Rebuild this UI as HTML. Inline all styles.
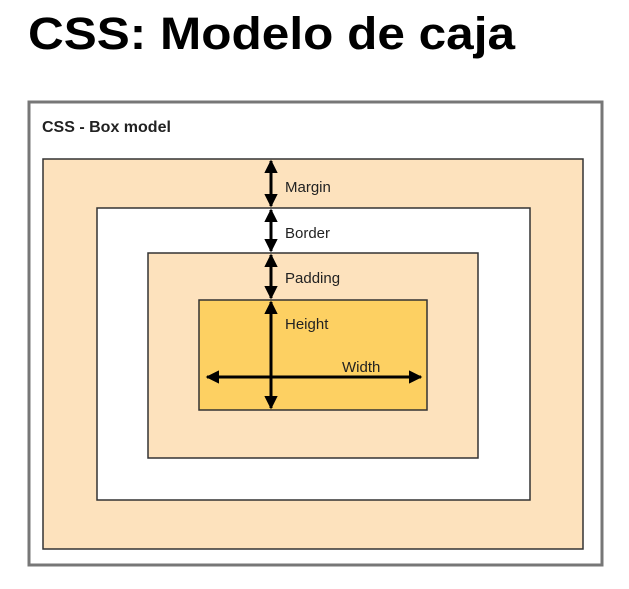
<!DOCTYPE html>
<html><head><meta charset="utf-8"><style>
body{margin:0;width:629px;height:584px;background:#fff;overflow:hidden;font-family:"Liberation Sans",sans-serif}
</style></head><body>
<svg width="629" height="584" viewBox="0 0 629 584" xmlns="http://www.w3.org/2000/svg">
<defs>
<marker id="a" viewBox="0 0 10 10" refX="9" refY="5" markerWidth="4.5" markerHeight="4.5" orient="auto-start-reverse"><path d="M0,0L10,5L0,10z" fill="#000"/></marker>
</defs>
<text x="28" y="49" font-family="Liberation Sans" font-weight="bold" font-size="45" textLength="487" lengthAdjust="spacingAndGlyphs" fill="#000">CSS: Modelo de caja</text>
<rect x="29" y="102" width="573" height="463" fill="#fff" stroke="#777" stroke-width="3"/>
<text x="42" y="132" font-family="Liberation Sans" font-weight="bold" font-size="16" fill="#222">CSS - Box model</text>
<rect x="43" y="159" width="540" height="390" fill="#fde2bd" stroke="#333" stroke-width="1.5"/>
<rect x="97" y="208" width="433" height="292" fill="#fff" stroke="#333" stroke-width="1.5"/>
<rect x="148" y="253" width="330" height="205" fill="#fde2bd" stroke="#333" stroke-width="1.5"/>
<rect x="199" y="300" width="228" height="110" fill="#fdd062" stroke="#333" stroke-width="1.5"/>
<g stroke="#000" stroke-width="3" marker-start="url(#a)" marker-end="url(#a)">
<line x1="271" y1="161" x2="271" y2="206"/>
<line x1="271" y1="210" x2="271" y2="251"/>
<line x1="271" y1="255" x2="271" y2="298"/>
</g>
<line x1="271" y1="302" x2="271" y2="408" stroke="#000" stroke-width="3" marker-start="url(#a)" marker-end="url(#a)"/>
<line x1="207" y1="377" x2="421" y2="377" stroke="#000" stroke-width="3" marker-start="url(#a)" marker-end="url(#a)"/>
<g font-family="Liberation Sans" font-size="15" fill="#222">
<text x="285" y="192">Margin</text>
<text x="285" y="238">Border</text>
<text x="285" y="283">Padding</text>
<text x="285" y="329">Height</text>
<text x="342" y="372">Width</text>
</g>
</svg>
</body></html>
